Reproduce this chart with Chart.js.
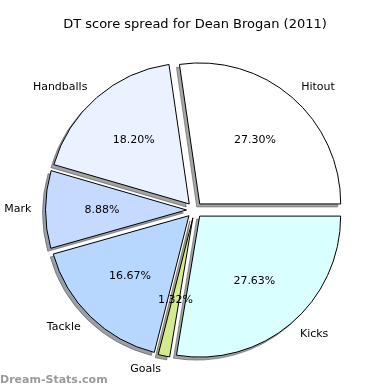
<!DOCTYPE html>
<html>
<head>
<meta charset="utf-8">
<script src="https://cdn.jsdelivr.net/npm/chart.js@4"></script>
<style>
  html, body { margin: 0; padding: 0; background: #fff; }
  #wrap { width: 390px; height: 390px; }
</style>
</head>
<body>
<div id="wrap"><canvas id="pie-chart" width="390" height="390"></canvas></div>
<script>
// Chart.js goes clockwise from 3 o'clock, so the order is the original one reversed
const categories = ['Kicks', 'Goals', 'Tackle', 'Mark', 'Handballs', 'Hitout'];
const shares = [27.63, 1.32, 16.67, 8.88, 18.20, 27.30];
const sliceColors = ['#d9ffff', '#d4ea8c', '#b8d7ff', '#c6d9ff', '#eaf1ff', '#ffffff'];
const chartTitle = 'DT score spread for Dean Brogan (2011)';
const watermark = 'Dream-Stats.com';

const EXPLODE = 8;
const SHADOW_DX = -3;
const SHADOW_DY = 3;
const FONT = '"DejaVu Sans", sans-serif';

function shadowColor(hex) {
  const n = parseInt(hex.slice(1), 16);
  const r = Math.round(((n >> 16) & 255) * 0.3);
  const g = Math.round(((n >> 8) & 255) * 0.3);
  const b = Math.round((n & 255) * 0.3);
  return `rgba(${r}, ${g}, ${b}, 0.5)`;
}

const pieDecor = {
  id: 'pieDecor',
  // push every wedge out along its middle angle
  afterDatasetUpdate(chart, args) {
    args.meta.data.forEach((arc) => {
      const mid = (arc.startAngle + arc.endAngle) / 2;
      arc.x += Math.cos(mid) * EXPLODE;
      arc.y += Math.sin(mid) * EXPLODE;
    });
  },
  beforeDatasetDraw(chart, args) {
    const ctx = chart.ctx;
    ctx.save();
    ctx.translate(SHADOW_DX, SHADOW_DY);
    args.meta.data.forEach((arc, i) => {
      const opts = arc.options;
      const shade = shadowColor(sliceColors[i]);
      arc.options = { ...opts, backgroundColor: shade, borderColor: shade };
      arc.draw(ctx);
      arc.options = opts;
    });
    ctx.restore();
  },
  afterDraw(chart) {
    const ctx = chart.ctx;
    const meta = chart.getDatasetMeta(0);
    ctx.save();
    ctx.fillStyle = '#000';
    ctx.textBaseline = 'middle';

    ctx.font = `13px ${FONT}`;
    ctx.textAlign = 'center';
    ctx.fillText(chartTitle, 195, 25);

    ctx.font = `11px ${FONT}`;
    meta.data.forEach((arc, i) => {
      const mid = (arc.startAngle + arc.endAngle) / 2;
      const r = arc.outerRadius;
      const lx = arc.x + Math.cos(mid) * r * 1.1;
      const ly = arc.y + Math.sin(mid) * r * 1.1;
      ctx.textAlign = Math.cos(mid) >= 0 ? 'left' : 'right';
      ctx.fillText(categories[i], lx, ly);

      const px = arc.x + Math.cos(mid) * r * 0.6;
      const py = arc.y + Math.sin(mid) * r * 0.6;
      ctx.textAlign = 'center';
      ctx.fillText(`${shares[i].toFixed(2)}%`, px, py);
    });

    ctx.font = `bold 11px ${FONT}`;
    ctx.fillStyle = '#9a9a9a';
    ctx.textAlign = 'left';
    ctx.fillText(watermark, 0, 380);
    ctx.restore();
  },
};

new Chart(document.getElementById('pie-chart'), {
  type: 'pie',
  data: {
    labels: categories,
    datasets: [
      {
        data: shares,
        backgroundColor: sliceColors,
        borderColor: '#000',
        borderWidth: 1,
        hoverOffset: 0,
      },
    ],
  },
  options: {
    responsive: false,
    animation: false,
    rotation: 90,
    radius: 141,
    layout: { padding: { left: 0, right: 1, top: 30, bottom: 0 } },
    plugins: {
      legend: { display: false },
      tooltip: { enabled: false },
    },
  },
  plugins: [pieDecor],
});
</script>
</body>
</html>
